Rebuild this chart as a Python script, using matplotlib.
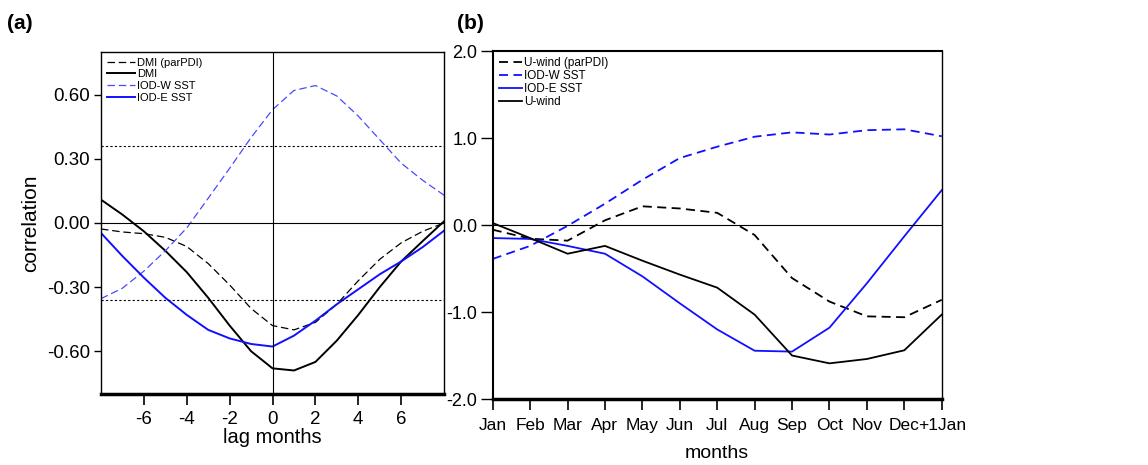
import matplotlib
matplotlib.use("Agg")
import matplotlib.pyplot as plt

plt.rcParams['font.family'] = ['Liberation Sans', 'DejaVu Sans']
plt.rcParams['axes.unicode_minus'] = False

# panel (a): lag correlations
lags = list(range(-8, 9))
dmi_par = [-0.028, -0.042, -0.05, -0.067, -0.11, -0.19, -0.29, -0.40, -0.48,
           -0.50, -0.465, -0.38, -0.27, -0.17, -0.093, -0.039, 0.0]
dmi = [0.109, 0.039, -0.039, -0.13, -0.23, -0.35, -0.48, -0.60, -0.68,
       -0.69, -0.65, -0.55, -0.43, -0.30, -0.18, -0.085, 0.008]
iodw_a = [-0.354, -0.305, -0.225, -0.13, -0.023, 0.116, 0.256, 0.40, 0.53,
          0.62, 0.643, 0.594, 0.50, 0.39, 0.28, 0.20, 0.13]
iode_a = [-0.047, -0.155, -0.256, -0.35, -0.43, -0.50, -0.54, -0.566, -0.578,
          -0.527, -0.457, -0.38, -0.31, -0.24, -0.18, -0.113, -0.036]
sig_level = 0.36

# panel (b): monthly regressions
months = ['Jan', 'Feb', 'Mar', 'Apr', 'May', 'Jun', 'Jul', 'Aug', 'Sep',
          'Oct', 'Nov', 'Dec', '+1Jan']
uwind_par = [-0.054, -0.157, -0.18, 0.054, 0.215, 0.19, 0.14, -0.115, -0.61,
             -0.88, -1.05, -1.06, -0.86]
iodw_b = [-0.39, -0.24, -0.01, 0.245, 0.52, 0.77, 0.90, 1.015, 1.065,
          1.04, 1.09, 1.10, 1.02]
iode_b = [-0.15, -0.16, -0.24, -0.33, -0.59, -0.90, -1.20, -1.445, -1.455,
          -1.18, -0.67, -0.13, 0.40]
uwind = [0.023, -0.15, -0.33, -0.24, -0.41, -0.57, -0.72, -1.03, -1.50,
         -1.59, -1.54, -1.44, -1.03]

fig = plt.figure(figsize=(11.48, 4.65), dpi=100)

# ---- (a)
ax = fig.add_axes([0.088, 0.1527, 0.2988, 0.7355])
ax.plot(lags, dmi_par, color='black', lw=0.9, ls=(0, (6, 3)), label='DMI (parPDI)')
ax.plot(lags, dmi, color='black', lw=1.4, label='DMI')
ax.plot(lags, iodw_a, color='#4a4aff', lw=0.9, ls=(0, (6, 3)), label='IOD-W SST')
ax.plot(lags, iode_a, color='#1010ff', lw=1.4, label='IOD-E SST')
ax.axhline(0, color='black', lw=0.8)
ax.axvline(0, color='black', lw=0.8)
ax.axhline(sig_level, color='black', lw=0.8, ls=(0, (2, 2)))
ax.axhline(-sig_level, color='black', lw=0.8, ls=(0, (2, 2)))
ax.set_xlim(-8, 8)
ax.set_ylim(-0.8, 0.8)
ax.set_xticks([-6, -4, -2, 0, 2, 4, 6])
ax.set_yticks([-0.6, -0.3, 0.0, 0.3, 0.6])
ax.set_yticklabels(['-0.60', '-0.30', '0.00', '0.30', '0.60'])
ax.tick_params(axis='x', direction='out', length=8, width=1.2, labelsize=13.5, pad=4)
ax.tick_params(axis='y', direction='out', length=5, width=1, labelsize=13.5, pad=3)
for s in ['left', 'top', 'right']:
    ax.spines[s].set_linewidth(1)
ax.spines['bottom'].set_linewidth(2.5)
ax.set_xlabel('lag months', fontsize=14.5, labelpad=0)
ax.set_ylabel('correlation', fontsize=15, labelpad=5)
ax.legend(loc='upper left', frameon=False, fontsize=8, handlelength=2.6,
          handletextpad=0.15, labelspacing=0.15, borderaxespad=0.3, borderpad=0.2)
fig.text(0.006, 0.95, '(a)', fontsize=15, fontweight='bold', va='center')

# ---- (b)
bx = fig.add_axes([0.4292, 0.1419, 0.3911, 0.7484])
x = list(range(len(months)))
bx.plot(x, uwind_par, color='black', lw=1.3, ls=(0, (5, 3)), label='U-wind (parPDI)')
bx.plot(x, iodw_b, color='#1010ff', lw=1.3, ls=(0, (5, 3)), label='IOD-W SST')
bx.plot(x, iode_b, color='#1010ff', lw=1.3, label='IOD-E SST')
bx.plot(x, uwind, color='black', lw=1.3, label='U-wind')
bx.axhline(0, color='black', lw=0.8)
bx.set_xlim(0, len(months) - 1)
bx.set_ylim(-2.0, 2.0)
bx.set_xticks(x)
bx.set_xticklabels(months)
bx.set_yticks([-2.0, -1.0, 0.0, 1.0, 2.0])
bx.set_yticklabels(['-2.0', '-1.0', '0.0', '1.0', '2.0'])
bx.tick_params(axis='x', direction='out', length=8, width=1.2, labelsize=12.5, pad=6)
bx.tick_params(axis='y', direction='out', length=9, width=1, labelsize=13, pad=2)
bx.spines['top'].set_linewidth(1.5)
bx.spines['left'].set_linewidth(1.5)
bx.spines['right'].set_linewidth(1)
bx.spines['bottom'].set_linewidth(2.5)
bx.set_xlabel('months', fontsize=14, labelpad=8)
bx.legend(loc='upper left', frameon=False, fontsize=8.5, handlelength=2.0,
          handletextpad=0.15, labelspacing=0.1, borderaxespad=0.3, borderpad=0.2)
fig.text(0.398, 0.95, '(b)', fontsize=15, fontweight='bold', va='center')

fig.savefig('out.png', dpi=100)
